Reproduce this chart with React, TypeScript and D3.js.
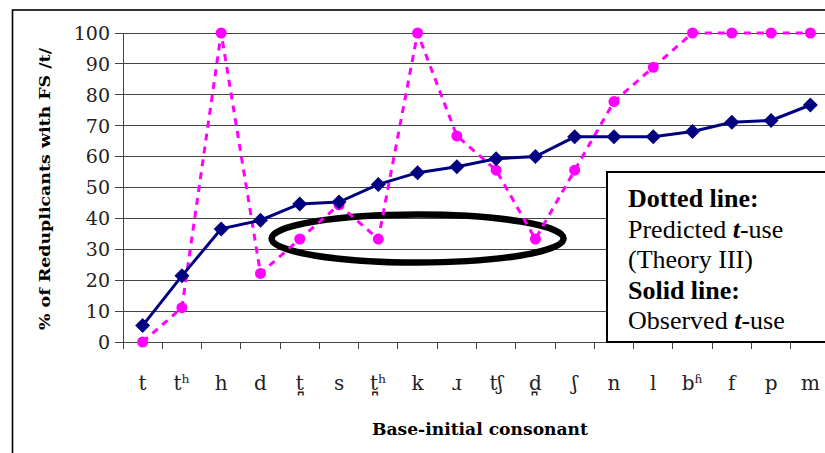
import React from "react";
import * as d3 from "d3";

const categories = ["t", "tʰ", "h", "d", "t̪", "s", "t̪ʰ", "k", "ɹ", "tʃ", "d̪", "ʃ", "n", "l", "bʱ", "f", "p", "m"];
const observed = [5.3, 21.4, 36.6, 39.4, 44.7, 45.3, 51.0, 54.8, 56.7, 59.3, 60.0, 66.4, 66.4, 66.4, 68.1, 71.1, 71.7, 76.7];
const predicted = [0, 11.1, 100, 22.2, 33.3, 44.4, 33.3, 100, 66.7, 55.6, 33.3, 55.6, 77.8, 88.9, 100, 100, 100, 100];
const yTicks = [0, 10, 20, 30, 40, 50, 60, 70, 80, 90, 100];

const W = 825;
const H = 453;

export default function App() {
  const x = d3.scaleBand<string>().domain(categories).range([123, 830]).paddingInner(0).paddingOuter(0);
  const y = d3.scaleLinear().domain([0, 100]).range([342, 33]);
  const cx = (i: number) => (x(categories[i]) as number) + x.bandwidth() / 2;

  const line = d3
    .line<number>()
    .x((_, i) => cx(i))
    .y((d) => y(d));

  const serif = "'DejaVu Serif', serif";
  const times = "'Liberation Serif', 'Times New Roman', serif";

  const diamond = (px: number, py: number, r: number) =>
    `M${px},${py - r}L${px + r},${py}L${px},${py + r}L${px - r},${py}Z`;

  const bandEdges = categories.map((c) => x(c) as number);
  bandEdges.push(830);

  const ellCx = cx(7);
  const ellCy = y(33.5);

  return (
    <svg
      width={W}
      height={H}
      style={{ position: "absolute", left: 0, top: 0, background: "#fff" }}
    >
      <rect x={0} y={0} width={W} height={H} fill="#fff" />
      {/* outer frame */}
      <rect x={12.5} y={10} width={W + 20} height={H + 20} fill="none" stroke="#000" strokeWidth={1.6} />

      {/* gridlines */}
      {yTicks.filter((t) => t > 0).map((t) => (
        <line key={"g" + t} x1={123} x2={830} y1={y(t)} y2={y(t)} stroke="#444" strokeWidth={1} shapeRendering="crispEdges" />
      ))}
      {/* y axis */}
      <line x1={123} x2={123} y1={y(100)} y2={y(0)} stroke="#444" strokeWidth={1} shapeRendering="crispEdges" />
      {yTicks.map((t) => (
        <g key={"yt" + t}>
          <line x1={115} x2={123} y1={y(t)} y2={y(t)} stroke="#444" strokeWidth={1} shapeRendering="crispEdges" />
          <text x={110} y={y(t)} dy="0.36em" textAnchor="end" fontFamily={serif} fontSize={19} fill="#222">
            {t}
          </text>
        </g>
      ))}
      {/* x axis */}
      <line x1={123} x2={830} y1={y(0)} y2={y(0)} stroke="#444" strokeWidth={1} shapeRendering="crispEdges" />
      {bandEdges.map((e, i) => (
        <line key={"xt" + i} x1={e} x2={e} y1={y(0)} y2={y(0) + 7} stroke="#444" strokeWidth={1} shapeRendering="crispEdges" />
      ))}
      {categories.map((c, i) => (
        <text key={"xl" + i} x={cx(i)} y={390} textAnchor="middle" fontFamily={serif} fontSize={20} fill="#222">
          {c}
        </text>
      ))}

      {/* annotation ellipse */}
      <ellipse cx={ellCx} cy={ellCy} rx={146} ry={24} fill="none" stroke="#000" strokeWidth={6.5} />

      {/* predicted dotted */}
      <path d={line(predicted) || ""} fill="none" stroke="#FF00FF" strokeWidth={3} strokeDasharray="7,6" />
      {predicted.map((v, i) => (
        <circle key={"p" + i} cx={cx(i)} cy={y(v)} r={5.5} fill="#FF00FF" />
      ))}

      {/* observed solid */}
      <path d={line(observed) || ""} fill="none" stroke="#000080" strokeWidth={3} />
      {observed.map((v, i) => (
        <path key={"o" + i} d={diamond(cx(i), y(v), 7.5)} fill="#000080" />
      ))}

      {/* axis titles */}
      <text
        transform={`translate(50,${189}) rotate(-90)`}
        textAnchor="middle"
        fontFamily={serif}
        fontWeight="bold"
        fontSize={15.5}
        fill="#000"
        textLength={282}
        lengthAdjust="spacingAndGlyphs"
      >
        % of Reduplicants with FS /t/
      </text>
      <text
        x={480}
        y={435}
        textAnchor="middle"
        fontFamily={serif}
        fontWeight="bold"
        fontSize={17}
        fill="#000"
        textLength={216}
        lengthAdjust="spacingAndGlyphs"
      >
        Base-initial consonant
      </text>

      {/* legend box */}
      <rect x={607} y={172} width={240} height={170} fill="#fff" stroke="#000" strokeWidth={2} />
      <g fontFamily={times} fontSize={26} fill="#000">
        <text x={628} y={207} fontWeight="bold">Dotted line:</text>
        <text x={628} y={237.5}>
          Predicted <tspan fontWeight="bold" fontStyle="italic">t</tspan>-use
        </text>
        <text x={628} y={268}>(Theory III)</text>
        <text x={628} y={298.5} fontWeight="bold">Solid line:</text>
        <text x={628} y={329}>
          Observed <tspan fontWeight="bold" fontStyle="italic">t</tspan>-use
        </text>
      </g>
    </svg>
  );
}
